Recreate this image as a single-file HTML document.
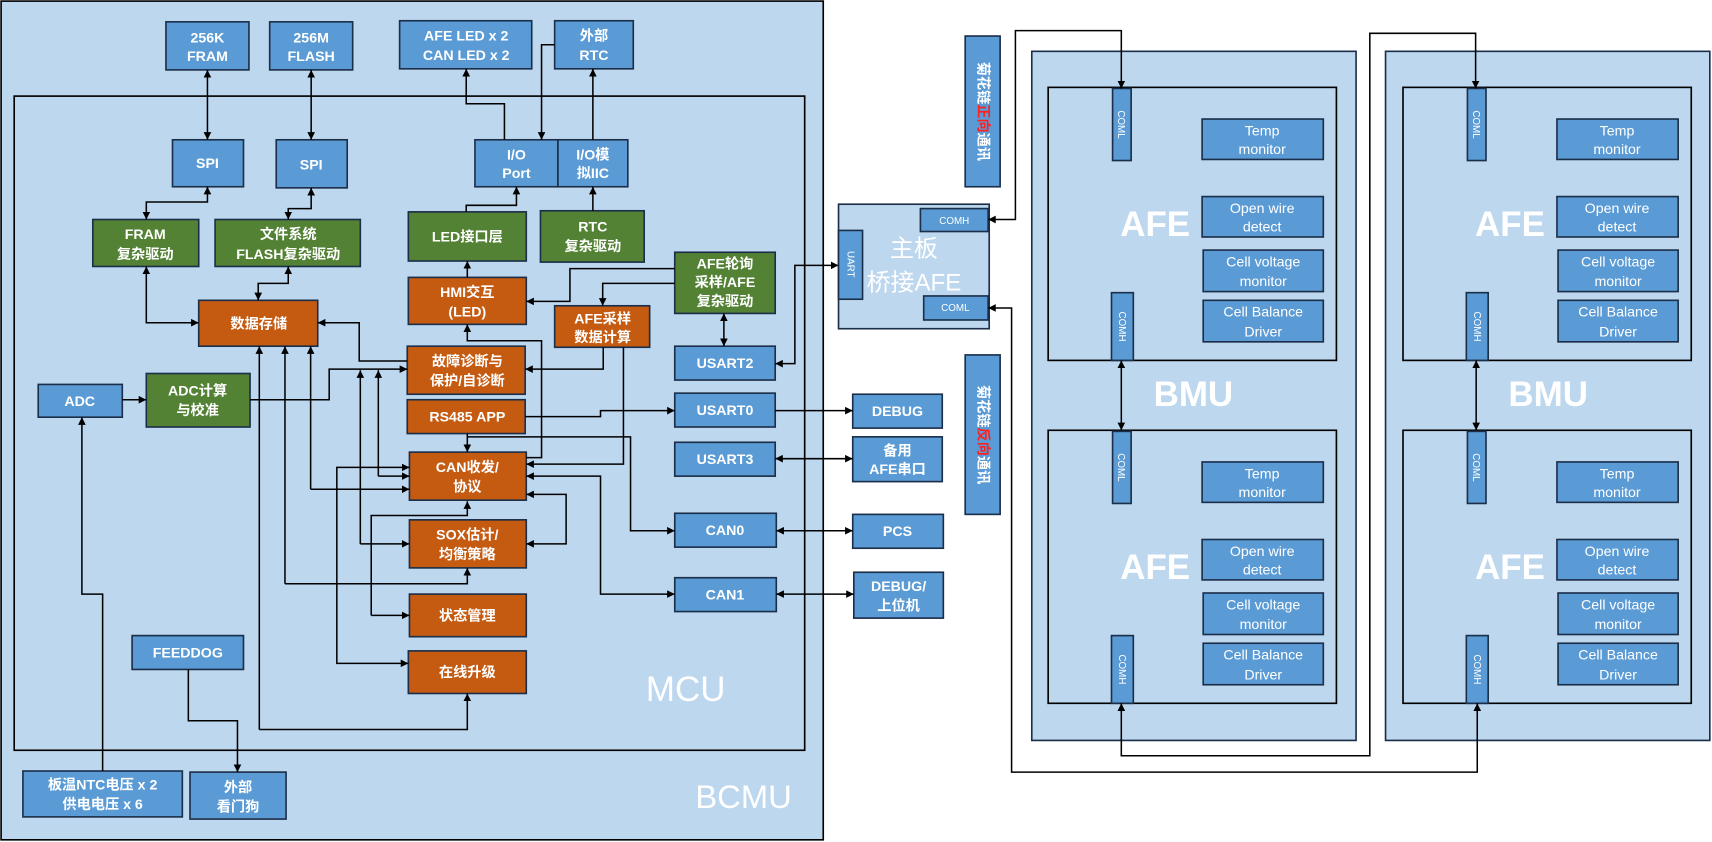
<!DOCTYPE html>
<html><head><meta charset="utf-8"><style>
html,body{margin:0;padding:0;background:#fff;}
svg{display:block;}
text{font-family:"Liberation Sans","Noto Sans CJK SC",sans-serif;fill:#fff;font-weight:bold;}
</style></head><body>
<svg width="1712" height="842" viewBox="0 0 1568 771" preserveAspectRatio="none" xmlns="http://www.w3.org/2000/svg">
<defs>
<marker id="a" viewBox="0 0 10 10" refX="10" refY="5" markerWidth="7" markerHeight="7" orient="auto-start-reverse" markerUnits="userSpaceOnUse"><path d="M0,0L10,5L0,10z" fill="#000"/></marker>
</defs>
<style>
.b{fill:#5b9bd5;stroke:#1c2f4a;stroke-width:1.5}
.g{fill:#548235;stroke:#1c2f4a;stroke-width:1.5}
.o{fill:#c55a11;stroke:#1c2f4a;stroke-width:1.5}
.l{fill:none;stroke:#000;stroke-width:1.4}
.t{font-size:13px;text-anchor:middle}
.s{font-size:9px;text-anchor:middle;font-weight:normal}
</style>
<!-- BCMU -->
<rect x="1" y="1" width="753" height="768" fill="#bdd7ee" stroke="#000" stroke-width="1.5"/>
<rect x="13" y="88" width="724" height="599" fill="none" stroke="#000" stroke-width="1.5"/>
<text x="628" y="642" style="font-size:32px;font-weight:normal;text-anchor:middle">MCU</text>
<text x="681" y="740" style="font-size:30px;font-weight:normal;text-anchor:middle">BCMU</text>

<!-- blue boxes -->
<rect class="b" x="152" y="20" width="76" height="44"/><text class="t" x="190" y="39">256K</text><text class="t" x="190" y="56">FRAM</text>
<rect class="b" x="247" y="20" width="76" height="44"/><text class="t" x="285" y="39">256M</text><text class="t" x="285" y="56">FLASH</text>
<rect class="b" x="366" y="19" width="121" height="44"/><text class="t" x="427" y="37">AFE LED x 2</text><text class="t" x="427" y="55">CAN LED x 2</text>
<rect class="b" x="508" y="19" width="72" height="44"/><text class="t" x="544" y="37">外部</text><text class="t" x="544" y="55">RTC</text>
<rect class="b" x="158" y="128" width="65" height="43"/><text class="t" x="190" y="154">SPI</text>
<rect class="b" x="253" y="128" width="65" height="44"/><text class="t" x="285" y="155">SPI</text>
<rect class="b" x="435" y="128" width="76" height="43"/><text class="t" x="473" y="146">I/O</text><text class="t" x="473" y="163">Port</text>
<rect class="b" x="511" y="128" width="64" height="43"/><text class="t" x="543" y="146">I/O模</text><text class="t" x="543" y="163">拟IIC</text>
<rect class="b" x="618" y="317" width="92" height="31"/><text class="t" x="664" y="337">USART2</text>
<rect class="b" x="35" y="352" width="77" height="30"/><text class="t" x="73" y="372">ADC</text>
<rect class="b" x="618" y="360" width="92" height="31"/><text class="t" x="664" y="380">USART0</text>
<rect class="b" x="618" y="405" width="92" height="31"/><text class="t" x="664" y="425">USART3</text>
<rect class="b" x="618" y="470" width="93" height="31"/><text class="t" x="664" y="490">CAN0</text>
<rect class="b" x="618" y="529" width="93" height="31"/><text class="t" x="664" y="549">CAN1</text>
<rect class="b" x="121" y="582" width="102" height="31"/><text class="t" x="172" y="602">FEEDDOG</text>
<rect class="b" x="21" y="706" width="146" height="42"/><text class="t" x="94" y="723">板温NTC电压 x 2</text><text class="t" x="94" y="741">供电电压 x 6</text>
<rect class="b" x="174" y="707" width="88" height="43"/><text class="t" x="218" y="725">外部</text><text class="t" x="218" y="743">看门狗</text>
<rect class="b" x="781" y="361" width="82" height="31"/><text class="t" x="822" y="381">DEBUG</text>
<rect class="b" x="781" y="400" width="82" height="41"/><text class="t" x="822" y="417">备用</text><text class="t" x="822" y="434">AFE串口</text>
<rect class="b" x="781" y="471" width="83" height="31"/><text class="t" x="822" y="491">PCS</text>
<rect class="b" x="782" y="524" width="82" height="42"/><text class="t" x="823" y="541">DEBUG/</text><text class="t" x="823" y="559">上位机</text>

<!-- green -->
<rect class="g" x="85" y="201" width="97" height="43"/><text class="t" x="133" y="219">FRAM</text><text class="t" x="133" y="237">复杂驱动</text>
<rect class="g" x="197" y="201" width="133" height="43"/><text class="t" x="264" y="219">文件系统</text><text class="t" x="264" y="237">FLASH复杂驱动</text>
<rect class="g" x="374" y="194" width="108" height="45"/><text class="t" x="428" y="221">LED接口层</text>
<rect class="g" x="495" y="193" width="95" height="47"/><text class="t" x="543" y="212">RTC</text><text class="t" x="543" y="230">复杂驱动</text>
<rect class="g" x="618" y="231" width="92" height="56"/><text class="t" x="664" y="246">AFE轮询</text><text class="t" x="664" y="263">采样/AFE</text><text class="t" x="664" y="280">复杂驱动</text>
<rect class="g" x="134" y="342" width="95" height="49"/><text class="t" x="181" y="362">ADC计算</text><text class="t" x="181" y="380">与校准</text>

<!-- orange -->
<rect class="o" x="182" y="275" width="109" height="42"/><text class="t" x="237" y="301">数据存储</text>
<rect class="o" x="374" y="254" width="108" height="43"/><text class="t" x="428" y="272">HMI交互</text><text class="t" x="428" y="290">(LED)</text>
<rect class="o" x="508" y="280" width="87" height="38"/><text class="t" x="552" y="296">AFE采样</text><text class="t" x="552" y="313">数据计算</text>
<rect class="o" x="373" y="317" width="108" height="44"/><text class="t" x="428" y="335">故障诊断与</text><text class="t" x="428" y="353">保护/自诊断</text>
<rect class="o" x="373" y="366" width="108" height="31"/><text class="t" x="428" y="386">RS485 APP</text>
<rect class="o" x="375" y="414" width="107" height="44"/><text class="t" x="428" y="432">CAN收发/</text><text class="t" x="428" y="450">协议</text>
<rect class="o" x="375" y="476" width="107" height="44"/><text class="t" x="428" y="494">SOX估计/</text><text class="t" x="428" y="512">均衡策略</text>
<rect class="o" x="375" y="544" width="107" height="39"/><text class="t" x="428" y="568">状态管理</text>
<rect class="o" x="374" y="596" width="108" height="39"/><text class="t" x="428" y="620">在线升级</text>

<!-- connectors left -->
<path class="l" d="M190,64V128" marker-start="url(#a)" marker-end="url(#a)"/>
<path class="l" d="M285,64V128" marker-start="url(#a)" marker-end="url(#a)"/>
<path class="l" d="M462,128V95H427V63" marker-end="url(#a)"/>
<path class="l" d="M508,41H496V128" marker-end="url(#a)"/>
<path class="l" d="M543,128V63" marker-end="url(#a)"/>
<path class="l" d="M190,171V185H134V201" marker-start="url(#a)" marker-end="url(#a)"/>
<path class="l" d="M285,172V191H264V201" marker-start="url(#a)" marker-end="url(#a)"/>
<path class="l" d="M427,194V188H473V171" marker-end="url(#a)"/>
<path class="l" d="M543,193V171" marker-end="url(#a)"/>
<path class="l" d="M428,254V239" marker-end="url(#a)"/>
<path class="l" d="M618,246H522V276H482" marker-end="url(#a)"/>
<path class="l" d="M618,259.5H552V280" marker-end="url(#a)"/>
<path class="l" d="M663,287V317" marker-start="url(#a)" marker-end="url(#a)"/>
<path class="l" d="M710,333H728V243H768" marker-start="url(#a)" marker-end="url(#a)"/>
<path class="l" d="M134,244V295.5H182" marker-start="url(#a)" marker-end="url(#a)"/>
<path class="l" d="M264,244V259.5H236.5V275" marker-start="url(#a)" marker-end="url(#a)"/>
<path class="l" d="M373,330.6H329V295.5H291" marker-end="url(#a)"/>
<path class="l" d="M112,366H134" marker-end="url(#a)"/>
<path class="l" d="M229,366H301.5V338H373" marker-end="url(#a)"/>
<path class="l" d="M330,498V339" marker-end="url(#a)"/>
<path class="l" d="M330,498H375" marker-end="url(#a)"/>
<path class="l" d="M346.5,436V339" marker-end="url(#a)"/>
<path class="l" d="M346.5,436H375" marker-end="url(#a)"/>
<path class="l" d="M237.5,668V317" marker-end="url(#a)"/>
<path class="l" d="M237.5,668H428V635" marker-end="url(#a)"/>
<path class="l" d="M261,534.5V317" marker-end="url(#a)"/>
<path class="l" d="M261,534.5H428V520" marker-end="url(#a)"/>
<path class="l" d="M284.5,448V317" marker-end="url(#a)"/>
<path class="l" d="M284.5,448H375" marker-end="url(#a)"/>
<path class="l" d="M482,419H496V312H428V297" marker-end="url(#a)"/>
<path class="l" d="M552.5,318V338H481" marker-end="url(#a)"/>
<path class="l" d="M571,318V425H482" marker-end="url(#a)"/>
<path class="l" d="M481,381.5H550V376H618" marker-end="url(#a)"/>
<path class="l" d="M710,376H781" marker-end="url(#a)"/>
<path class="l" d="M428,397V414" marker-end="url(#a)"/>
<path class="l" d="M428,400H577.5V486H618" marker-end="url(#a)"/>
<path class="l" d="M482,436H550V544H618" marker-start="url(#a)" marker-end="url(#a)"/>
<path class="l" d="M482,452.7H518.5V498H482" marker-start="url(#a)" marker-end="url(#a)"/>
<path class="l" d="M340,563.5V472H428V459" marker-end="url(#a)"/>
<path class="l" d="M340,563.5H375" marker-end="url(#a)"/>
<path class="l" d="M375,428H308.5V607.4H374" marker-start="url(#a)" marker-end="url(#a)"/>
<path class="l" d="M94,706V544H75V382" marker-end="url(#a)"/>
<path class="l" d="M172.5,613V660H217.5V707" marker-end="url(#a)"/>
<path class="l" d="M710,420H781" marker-start="url(#a)" marker-end="url(#a)"/>
<path class="l" d="M711,486H781" marker-start="url(#a)" marker-end="url(#a)"/>
<path class="l" d="M711,544H782" marker-start="url(#a)" marker-end="url(#a)"/>

<!-- bridge board -->
<rect x="768" y="187" width="138" height="114" fill="#bdd7ee" stroke="#1c2f4a" stroke-width="1.5"/>
<text x="837" y="235" style="font-size:22px;font-weight:normal;text-anchor:middle">主板</text>
<text x="837" y="266" style="font-size:22px;font-weight:normal;text-anchor:middle">桥接AFE</text>
<rect class="b" x="843" y="191" width="62" height="21"/><text class="s" x="874" y="205">COMH</text>
<rect class="b" x="768" y="211" width="22" height="63"/><text class="s" transform="translate(776,242) rotate(90)" x="0" y="0">UART</text>
<rect class="b" x="846" y="271" width="59" height="22"/><text class="s" x="875" y="285">COML</text>

<!-- daisy labels -->
<rect class="b" x="884" y="33" width="32" height="138"/>
<text transform="translate(896,102) rotate(90)" style="font-size:13px;text-anchor:middle">菊花链<tspan fill="#ff2020">正向</tspan>通讯</text>
<rect class="b" x="884" y="325" width="32" height="146"/>
<text transform="translate(896,398) rotate(90)" style="font-size:13px;text-anchor:middle">菊花链<tspan fill="#ff2020">反向</tspan>通讯</text>

<!-- BMU 1 -->
<rect x="945" y="47" width="297" height="631" fill="#bdd7ee" stroke="#1c2f4a" stroke-width="1.5"/>
<rect x="1269" y="47" width="297" height="631" fill="#bdd7ee" stroke="#1c2f4a" stroke-width="1.5"/>
<text x="1093" y="372" style="font-size:32px;text-anchor:middle">BMU</text>
<text x="1418" y="372" style="font-size:32px;text-anchor:middle">BMU</text>

<g id="afe">
<rect x="960" y="80" width="264" height="250" fill="none" stroke="#000" stroke-width="1.5"/>
<text x="1058" y="216" style="font-size:32px;text-anchor:middle">AFE</text>
<rect class="b" x="1019" y="81" width="17" height="66"/><text class="s" transform="translate(1024,114) rotate(90)">COML</text>
<rect class="b" x="1018" y="268" width="20" height="62"/><text class="s" transform="translate(1025,299) rotate(90)">COMH</text>
<rect class="b" x="1101" y="109" width="111" height="37"/><text class="t" style="font-weight:normal" x="1156" y="124">Temp</text><text class="t" style="font-weight:normal" x="1156" y="141">monitor</text>
<rect class="b" x="1101" y="180" width="111" height="37"/><text class="t" style="font-weight:normal" x="1156" y="195">Open wire</text><text class="t" style="font-weight:normal" x="1156" y="212">detect</text>
<rect class="b" x="1102" y="229" width="110" height="38"/><text class="t" style="font-weight:normal" x="1157" y="244">Cell voltage</text><text class="t" style="font-weight:normal" x="1157" y="262">monitor</text>
<rect class="b" x="1102" y="275" width="110" height="38"/><text class="t" style="font-weight:normal" x="1157" y="290">Cell Balance</text><text class="t" style="font-weight:normal" x="1157" y="308">Driver</text>
</g>
<use href="#afe" transform="translate(0,314)"/>
<use href="#afe" transform="translate(325,0)"/>
<use href="#afe" transform="translate(325,314)"/>

<path class="l" d="M1027,330V394" marker-start="url(#a)" marker-end="url(#a)"/>
<path class="l" d="M1352,330V394" marker-start="url(#a)" marker-end="url(#a)"/>

<!-- daisy chain -->
<path class="l" d="M905,201H930V28H1027V81" marker-start="url(#a)" marker-end="url(#a)"/>
<path class="l" d="M1027,644V692H1254.6V30.5H1351.5V81" marker-start="url(#a)" marker-end="url(#a)"/>
<path class="l" d="M905,282H926.5V707H1353V644" marker-start="url(#a)" marker-end="url(#a)"/>
</svg>
</body></html>
